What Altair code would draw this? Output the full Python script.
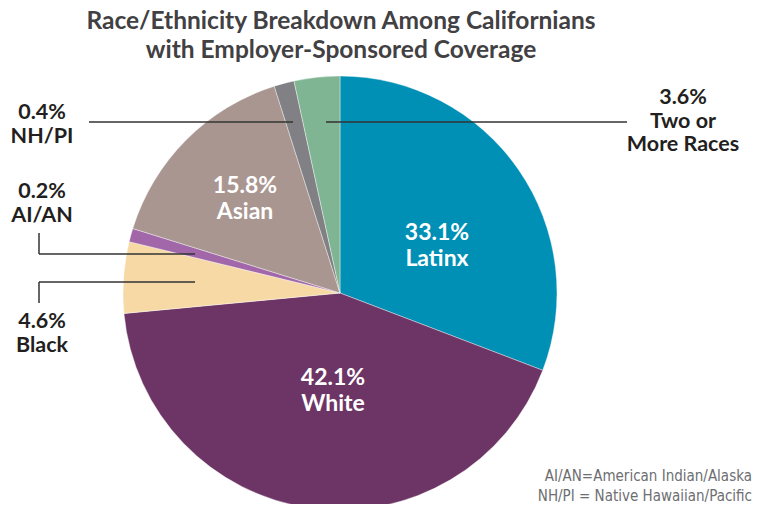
import altair as alt
import pandas as pd

# ---- data ----
groups = ["Latinx", "White", "Black", "AI/AN", "Asian", "NH/PI", "Two or More Races"]
# slice sizes as drawn (share of the circle, %)
drawn_share = [30.8, 42.7, 5.3, 1.0, 15.3, 1.5, 3.4]
# printed labels
label_pct = ["33.1%", "42.1%", "4.6%", "0.2%", "15.8%", "0.4%", "3.6%"]
label_name = ["Latinx", "White", "Black", "AI/AN", "Asian", "NH/PI", "Two or\nMore Races"]
colors = ["#0090b6", "#6d3565", "#f6d9a4", "#a167a9", "#a99690", "#808085", "#7fb592"]

title_lines = ["Race/Ethnicity Breakdown Among Californians", "with Employer-Sponsored Coverage"]
footnote_lines = ["AI/AN=American Indian/Alaska", "NH/PI = Native Hawaiian/Pacific"]

df = pd.DataFrame({"group": groups, "share": drawn_share, "order": list(range(len(groups)))})
one = pd.DataFrame({"d": [0]})

W, H = 745, 496
CX, CY, R = 332, 285, 217  # pie centre / radius in chart px

pie = alt.Chart(df).mark_arc(outerRadius=R, stroke="white", strokeWidth=0.4).encode(
    theta=alt.Theta("share:Q", stack=True),
    order=alt.Order("order:Q"),
    color=alt.Color("group:N", scale=alt.Scale(domain=groups, range=colors), legend=None),
    x=alt.value(CX),
    y=alt.value(CY),
)

FONT = "Lato"
layers = [pie]

def txt(s, x, y, color, size=21, align="center", font=FONT, weight="bold", lh=24):
    return alt.Chart(one).mark_text(
        align=align, baseline="middle", font=font, fontWeight=weight,
        fontSize=size, color=color, lineBreak="\n", lineHeight=lh,
    ).encode(x=alt.value(x), y=alt.value(y), text=alt.value(s))

# title
layers.append(txt(title_lines[0], 333, 14, "#414042", size=24.5))
layers.append(txt(title_lines[1], 333, 42.5, "#414042", size=24.5))

# inside labels (y = first line)
inside = {"Latinx": (429, 225), "White": (325, 370), "Asian": (237, 178)}
for g, p, n in zip(groups, label_pct, label_name):
    if g in inside:
        x, y = inside[g]
        layers.append(txt(p + "\n" + n, x, y, "white", size=23, lh=25.5))

# outside labels (y = first line)
outside = {"NH/PI": (34, 105), "AI/AN": (34, 184), "Black": (34, 314), "Two or More Races": (675, 90)}
for g, p, n in zip(groups, label_pct, label_name):
    if g in outside:
        x, y = outside[g]
        layers.append(txt(p + "\n" + n, x, y, "#231f20", size=21.5, lh=23.5))

# leader lines (chart px)
def rule(x1, y1, x2, y2):
    return alt.Chart(one).mark_rule(color="#333333", strokeWidth=1.5).encode(
        x=alt.value(x1), y=alt.value(y1), x2=alt.value(x2), y2=alt.value(y2))

layers += [
    rule(81, 114, 285, 114),
    rule(318, 114, 619, 114),
    rule(31, 225, 31, 246), rule(31, 246, 187, 246),
    rule(31, 274, 31, 295), rule(31, 274, 187, 274),
]

# footnote
FN_FONT = "Liberation Sans Narrow, DejaVu Sans Condensed, sans-serif"
layers.append(txt(footnote_lines[0], 744, 468, "#6d6e71", size=15, align="right",
                  font=FN_FONT, weight="normal"))
layers.append(txt(footnote_lines[1], 744, 488, "#6d6e71", size=15, align="right",
                  font=FN_FONT, weight="normal"))

chart = alt.layer(*layers).properties(
    width=W, height=H, padding=0, autosize=alt.AutoSizeParams(type="none"),
    background="white",
).configure_view(stroke=None)

chart.save("out.html", embed_options={"renderer": "svg", "actions": False})
